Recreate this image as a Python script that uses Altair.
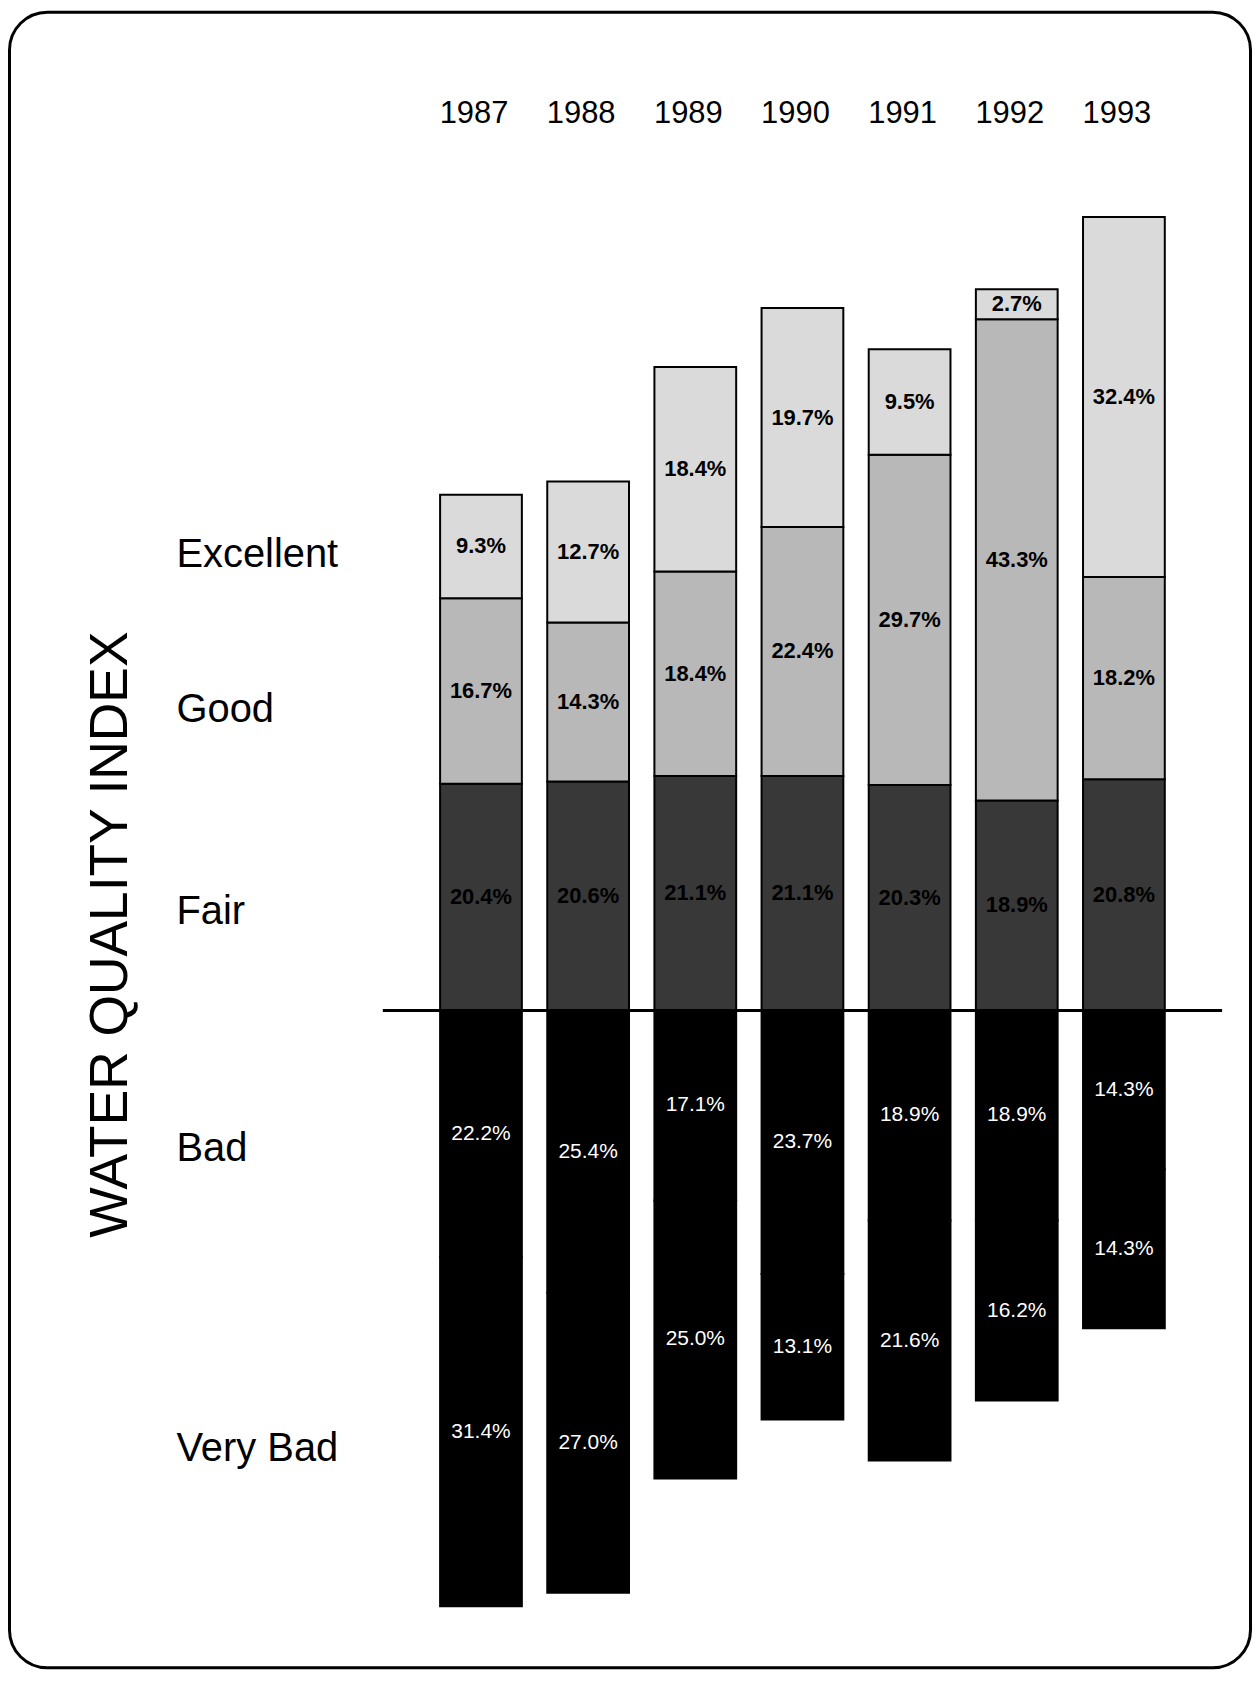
import altair as alt
import pandas as pd

# ---- data ----
years = [1987, 1988, 1989, 1990, 1991, 1992, 1993]
excellent = [9.3, 12.7, 18.4, 19.7, 9.5, 2.7, 32.4]
good = [16.7, 14.3, 18.4, 22.4, 29.7, 43.3, 18.2]
fair = [20.4, 20.6, 21.1, 21.1, 20.3, 18.9, 20.8]
bad = [22.2, 25.4, 17.1, 23.7, 18.9, 18.9, 14.3]
very_bad = [31.4, 27.0, 25.0, 13.1, 21.6, 16.2, 14.3]

stack_order = ["Fair", "Good", "Excellent", "Bad", "Very Bad"]
row_labels = ["Excellent", "Good", "Fair", "Bad", "Very Bad"]
row_label_levels = [41.0, 27.0, 8.9, -12.5, -39.5]
title_text = "WATER QUALITY INDEX"

series = {"Fair": fair, "Good": good, "Excellent": excellent,
          "Bad": bad, "Very Bad": very_bad}
below = {"Bad", "Very Bad"}

rows = []
for ci, cat in enumerate(stack_order):
    for yr, v in zip(years, series[cat]):
        rows.append({
            "year": str(yr),
            "category": cat,
            "order": ci,
            "value": -v if cat in below else v,
            "label": f"{v:.1f}%",
        })
df = pd.DataFrame(rows)

W, H = 1248, 1664
FONT = "Liberation Sans"

xscale = alt.Scale(domain=[str(y) for y in years], range=[420.75, 1173.25],
                   paddingInner=0.237, paddingOuter=0.1185)
yscale = alt.Scale(domain=[-59.28, 89.96], nice=False, zero=False)
xaxis = alt.Axis(orient="top", title=None, ticks=False, domain=False,
                 labelAngle=0, labelFontSize=31, labelFont=FONT,
                 labelColor="black", labelPadding=0, offset=-112,
                 labelOffset=-7, labelBaseline="alphabetic", grid=False)

base = (
    alt.Chart(df)
    .transform_stack(stack="value", groupby=["year"],
                     sort=[alt.SortField("order", order="ascending")],
                     as_=["v0", "v1"])
    .transform_calculate(mid="(datum.v0 + datum.v1) / 2")
)

bars = base.mark_bar(stroke="black", strokeWidth=2).encode(
    x=alt.X("year:N", scale=xscale, axis=xaxis),
    y=alt.Y("v0:Q", scale=yscale, axis=None),
    y2="v1:Q",
    color=alt.Color("category:N", legend=None,
                    scale=alt.Scale(domain=stack_order,
                                    range=["#383838", "#b8b8b8", "#dadada",
                                           "#000000", "#000000"])),
)

upper_text = base.transform_filter(
    alt.FieldOneOfPredicate(field="category", oneOf=["Fair", "Good", "Excellent"])
).mark_text(font=FONT, fontSize=22, fontWeight="bold", color="black",
            align="center", baseline="middle").encode(
    x=alt.X("year:N", scale=xscale, axis=xaxis),
    y=alt.Y("mid:Q", scale=yscale, axis=None),
    text="label:N",
)

lower_text = base.transform_filter(
    alt.FieldOneOfPredicate(field="category", oneOf=["Bad", "Very Bad"])
).mark_text(font=FONT, fontSize=21, color="white",
            align="center", baseline="middle").encode(
    x=alt.X("year:N", scale=xscale, axis=xaxis),
    y=alt.Y("mid:Q", scale=yscale, axis=None),
    text="label:N",
)

baseline = alt.Chart(pd.DataFrame({"z": [0]})).mark_rule(
    color="black", strokeWidth=3).encode(
    y=alt.Y("z:Q", scale=yscale, axis=None),
    x=alt.value(376), x2=alt.value(1218),
)

row_df = pd.DataFrame({"name": row_labels, "level": row_label_levels})
row_text = alt.Chart(row_df).mark_text(
    font=FONT, fontSize=40, color="black", align="left", baseline="middle"
).encode(
    y=alt.Y("level:Q", scale=yscale, axis=None),
    x=alt.value(169),
    text="name:N",
)

title = alt.Chart(pd.DataFrame({"t": [title_text]})).mark_text(
    font=FONT, fontSize=53.5, color="black", angle=270,
    align="center", baseline="middle"
).encode(x=alt.value(103), y=alt.value(927), text="t:N")

frame = alt.Chart(pd.DataFrame({"f": [1]})).mark_rect(
    fill="transparent", stroke="black", strokeWidth=3, cornerRadius=38
).encode(x=alt.value(1.5), x2=alt.value(W - 1.5),
         y=alt.value(1.5), y2=alt.value(H - 1.5))

chart = alt.layer(frame, bars, baseline, upper_text, lower_text, row_text, title).properties(
    width=W, height=H,
    autosize=alt.AutoSizeParams(type="none"),
    padding=0,
    background="white",
).configure_view(strokeWidth=0)

chart.save("out.html", embed_options={"renderer": "svg", "actions": False})
